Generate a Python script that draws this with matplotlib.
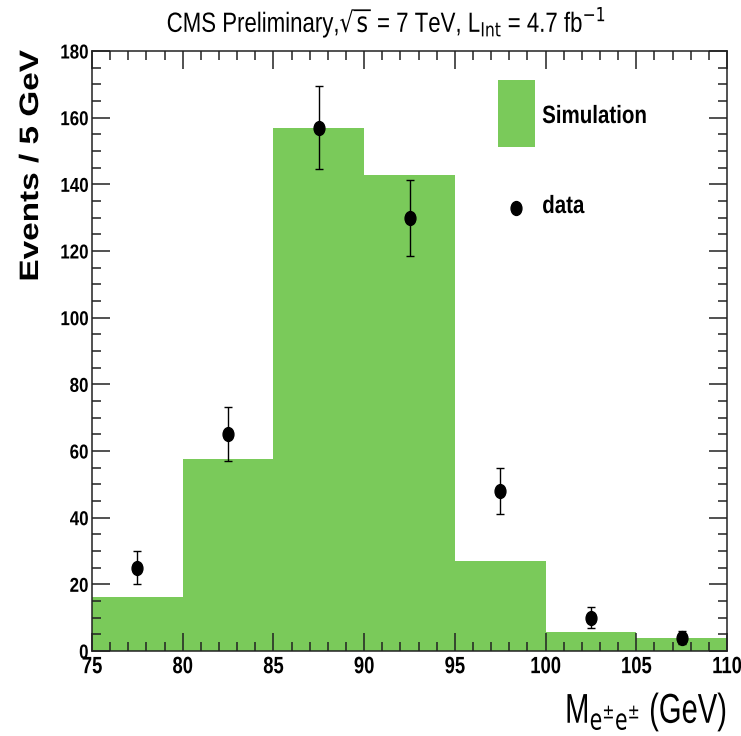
import matplotlib
matplotlib.use("Agg")
import matplotlib.pyplot as plt
from matplotlib.patches import Rectangle
from matplotlib.patheffects import AbstractPathEffect
from matplotlib.transforms import Affine2D
from matplotlib.path import Path
from matplotlib.ticker import MultipleLocator

# Binned dielectron mass spectrum
bin_edges = [75, 80, 85, 90, 95, 100, 105, 110]
simulation = [16.2, 57.6, 157.0, 142.8, 27.0, 5.7, 3.9]
data_centers = [77.5, 82.5, 87.5, 92.5, 97.5, 102.5, 107.5]
data_counts = [25, 65, 157, 130, 48, 10, 4]
data_errors = [5.0, 8.1, 12.5, 11.4, 6.9, 3.2, 2.0]

GREEN = "#7aca5a"
FONT = ["Liberation Sans", "DejaVu Sans"]


class Condense(AbstractPathEffect):
    """Squeeze the glyph outlines of a text about an anchor point."""

    def __init__(self, sx=1.0, sy=1.0, anchor="center"):
        super().__init__()
        self.sx, self.sy, self.anchor = sx, sy, anchor

    def draw_path(self, renderer, gc, tpath, affine, rgbFace=None):
        ext = tpath.get_extents()
        cx = {"left": ext.x0, "right": ext.x1}.get(self.anchor, 0.5 * (ext.x0 + ext.x1))
        cy = 0.5 * (ext.y0 + ext.y1)
        squeeze = Affine2D().translate(-cx, -cy).scale(self.sx, self.sy).translate(cx, cy)
        renderer.draw_path(gc, tpath, squeeze + affine, rgbFace)


# slightly narrow round marker
dot = Path.unit_circle().transformed(Affine2D().scale(0.78, 1.0))

fig = plt.figure(figsize=(7.41, 7.36), dpi=100)
ax = fig.add_axes([0.1242, 0.1155, 0.8569, 0.8152])

ax.stairs(simulation, bin_edges, fill=True, color=GREEN, linewidth=0)
ax.errorbar(data_centers, data_counts, yerr=data_errors, fmt="none", ecolor="black",
            elinewidth=1.0, capsize=3, capthick=1.0, zorder=5)
ax.plot(data_centers, data_counts, linestyle="none", marker=dot, markersize=10,
        color="black", zorder=6)

ax.set_xlim(75, 110)
ax.set_ylim(0, 180)
ax.xaxis.set_major_locator(MultipleLocator(5))
ax.xaxis.set_minor_locator(MultipleLocator(1))
ax.yaxis.set_major_locator(MultipleLocator(20))
ax.yaxis.set_minor_locator(MultipleLocator(5))
ax.tick_params(which="both", direction="in", top=True, right=True, width=1.1, color="#222222")
ax.tick_params(which="major", length=13)
ax.tick_params(which="minor", length=6.5)
ax.tick_params(axis="x", which="major", pad=3)
ax.tick_params(axis="y", which="major", pad=2.5)
for spine in ax.spines.values():
    spine.set_linewidth(1.1)
    spine.set_color("#222222")

for lab in ax.get_xticklabels():
    lab.set_fontfamily(FONT)
    lab.set_fontweight("bold")
    lab.set_fontsize(17)
    lab.set_path_effects([Condense(sx=0.78, anchor="center")])
for lab in ax.get_yticklabels():
    lab.set_fontfamily(FONT)
    lab.set_fontweight("bold")
    lab.set_fontsize(14.5)
    lab.set_path_effects([Condense(sx=0.84, anchor="right")])

# Legend drawn in axes fraction coordinates
ax.add_patch(Rectangle((0.639, 0.84), 0.059, 0.112, transform=ax.transAxes,
                       facecolor=GREEN, edgecolor="none", clip_on=False))
ax.text(0.7087, 0.88, "Simulation", transform=ax.transAxes, va="baseline", ha="left",
        fontsize=18, fontfamily=FONT, fontweight="bold",
        path_effects=[Condense(sx=0.82, anchor="left")])
ax.plot([0.668], [0.738], linestyle="none", marker=dot, markersize=10, color="black",
        transform=ax.transAxes)
ax.text(0.7087, 0.73, "data", transform=ax.transAxes, va="baseline", ha="left",
        fontsize=18, fontfamily=FONT, fontweight="bold",
        path_effects=[Condense(sx=0.82, anchor="left")])

fig.text(0.521, 0.9565,
         r"CMS Preliminary,$\sqrt{\mathrm{s}}$ = 7 TeV, L$_{\mathrm{Int}}$ = 4.7 fb$^{\mathrm{-1}}$",
         ha="center", va="baseline", fontsize=20, fontfamily=FONT,
         path_effects=[Condense(sx=0.8, anchor="center")])
fig.text(0.043, 0.775, "Events / 5 GeV", rotation=90, ha="center", va="center",
         fontsize=24, fontfamily=FONT, fontweight="bold",
         path_effects=[Condense(sy=0.8, anchor="center")])
fig.text(0.981, 0.0177, r"M$_{\mathrm{e^{\pm}e^{\pm}}}$ (GeV)", ha="right", va="baseline",
         fontsize=30, fontfamily=FONT,
         path_effects=[Condense(sx=0.7, anchor="right")])

fig.savefig("out.png", dpi=100)
